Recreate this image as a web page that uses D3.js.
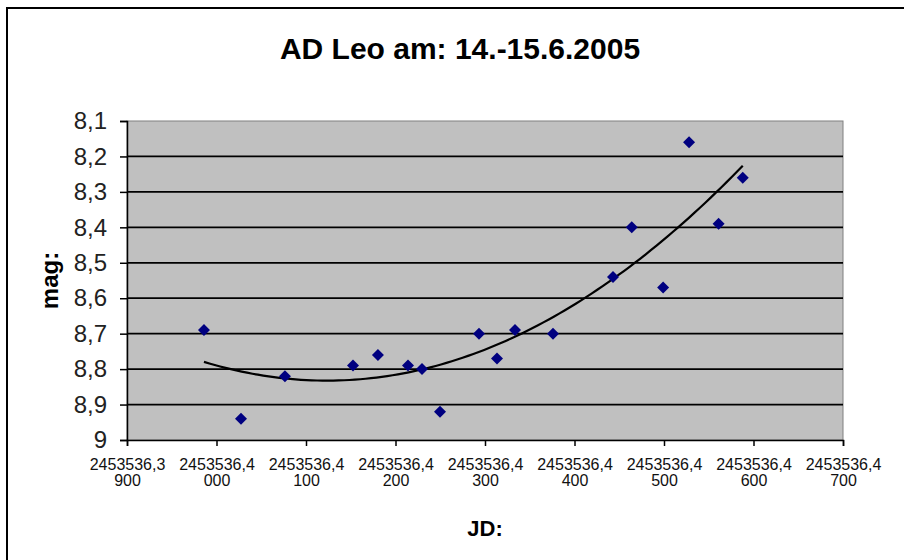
<!DOCTYPE html>
<html>
<head>
<meta charset="utf-8">
<script src="https://cdn.jsdelivr.net/npm/d3@7"></script>
<style>
  html, body { margin: 0; padding: 0; background: #fff; }
  svg { display: block; font-family: Arial, "Liberation Sans", sans-serif; }
</style>
</head>
<body>
<div id="chart"></div>
<script>
// observations (JD, magnitude)
const jd = [2453536.39860, 2453536.40274, 2453536.40765, 2453536.41525, 2453536.41804,
            2453536.42140, 2453536.42296, 2453536.42497, 2453536.42933, 2453536.43134,
            2453536.43335, 2453536.43760, 2453536.44430, 2453536.44640, 2453536.44990,
            2453536.45280, 2453536.45610, 2453536.45880];
const mag = [8.69, 8.94, 8.82, 8.79, 8.76, 8.79, 8.80, 8.92, 8.70, 8.77,
             8.69, 8.70, 8.54, 8.40, 8.57, 8.16, 8.39, 8.26];

const xTicks = [2453536.39, 2453536.40, 2453536.41, 2453536.42, 2453536.43,
                2453536.44, 2453536.45, 2453536.46, 2453536.47];
const xTickTop = ["2453536,3", "2453536,4", "2453536,4", "2453536,4", "2453536,4",
                  "2453536,4", "2453536,4", "2453536,4", "2453536,4"];
const xTickBottom = ["900", "000", "100", "200", "300", "400", "500", "600", "700"];
const yTicks = [8.1, 8.2, 8.3, 8.4, 8.5, 8.6, 8.7, 8.8, 8.9, 9];

const W = 904, H = 560;
const plot = { left: 127, right: 843, top: 121, bottom: 440 };

const svg = d3.select('#chart').append('svg')
  .attr('width', W)
  .attr('height', H);

// outer chart frame (runs off the right/bottom edge like the screenshot)
svg.append('rect')
  .attr('x', 7).attr('y', 8)
  .attr('width', 960).attr('height', 600)
  .attr('fill', '#fff')
  .attr('stroke', '#000')
  .attr('stroke-width', 2);

const x = d3.scaleLinear().domain([xTicks[0], xTicks[xTicks.length - 1]]).range([plot.left, plot.right]);
const y = d3.scaleLinear().domain([8.1, 9]).range([plot.top, plot.bottom]);

// plot area
svg.append('rect')
  .attr('x', plot.left).attr('y', plot.top)
  .attr('width', plot.right - plot.left).attr('height', plot.bottom - plot.top)
  .attr('fill', '#c0c0c0')
  .attr('stroke', '#808080')
  .attr('stroke-width', 1);

// gridlines
svg.append('g')
  .selectAll('line')
  .data(yTicks.slice(1, -1))
  .join('line')
  .attr('x1', plot.left).attr('x2', plot.right)
  .attr('y1', d => y(d)).attr('y2', d => y(d))
  .attr('stroke', '#000')
  .attr('stroke-width', 1.7);

// polynomial (order 2) trendline, least squares like Excel
const x0 = xTicks[0];
function polyFit2(xs, ys) {
  let n = xs.length, s1 = 0, s2 = 0, s3 = 0, s4 = 0, t0 = 0, t1 = 0, t2 = 0;
  for (let i = 0; i < n; i++) {
    const u = xs[i], v = ys[i];
    s1 += u; s2 += u * u; s3 += u * u * u; s4 += u * u * u * u;
    t0 += v; t1 += u * v; t2 += u * u * v;
  }
  const A = [[n, s1, s2], [s1, s2, s3], [s2, s3, s4]], b = [t0, t1, t2];
  const det = m => m[0][0] * (m[1][1] * m[2][2] - m[1][2] * m[2][1])
                 - m[0][1] * (m[1][0] * m[2][2] - m[1][2] * m[2][0])
                 + m[0][2] * (m[1][0] * m[2][1] - m[1][1] * m[2][0]);
  const D = det(A);
  return [0, 1, 2].map(k => det(A.map((row, r) => row.map((c, j) => j === k ? b[r] : c))) / D);
}
const us = jd.map(d => (d - x0) * 100);
const coef = polyFit2(us, mag);
const uMin = d3.min(us), uMax = d3.max(us);
const trend = d3.range(0, 101).map(i => {
  const u = uMin + (uMax - uMin) * i / 100;
  return [x0 + u / 100, coef[0] + coef[1] * u + coef[2] * u * u];
});
svg.append('path')
  .datum(trend)
  .attr('fill', 'none')
  .attr('stroke', '#000')
  .attr('stroke-width', 2.2)
  .attr('d', d3.line().x(d => x(d[0])).y(d => y(d[1])));

// markers
svg.append('g')
  .selectAll('path')
  .data(jd.map((d, i) => [d, mag[i]]))
  .join('path')
  .attr('transform', d => `translate(${x(d[0])},${y(d[1])}) rotate(45)`)
  .attr('d', d3.symbol(d3.symbolSquare, 72))
  .attr('fill', '#000080');

// axes
const commaFmt = d3.formatLocale({ decimal: ',', thousands: '.', grouping: [3], currency: ['', ''] }).format('~g');

const yAxis = svg.append('g')
  .attr('transform', `translate(${plot.left},0)`)
  .call(d3.axisLeft(y).tickValues(yTicks).tickSize(7).tickPadding(13).tickFormat(commaFmt));
yAxis.select('.domain').attr('stroke', '#000').attr('stroke-width', 1.5);
yAxis.selectAll('.tick line').attr('stroke', '#000').attr('stroke-width', 1.5);
yAxis.selectAll('.tick text')
  .attr('font-size', 24)
  .attr('font-family', 'Arial, "Liberation Sans", sans-serif')
  .attr('fill', '#222');

const xAxis = svg.append('g')
  .attr('transform', `translate(0,${plot.bottom})`)
  .call(d3.axisBottom(x).tickValues(xTicks).tickSize(6).tickPadding(0).tickFormat(() => ''));
xAxis.select('.domain').attr('stroke', '#000').attr('stroke-width', 1.5);
xAxis.selectAll('.tick line').attr('stroke', '#000').attr('stroke-width', 1.5);
xAxis.selectAll('.tick text')
  .attr('font-size', 16)
  .attr('font-family', 'Arial, "Liberation Sans", sans-serif')
  .attr('fill', '#111')
  .attr('dy', null)
  .attr('y', 0)
  .each(function (d, i) {
    const t = d3.select(this);
    t.append('tspan').attr('x', 0).attr('y', 30).text(xTickTop[i]);
    t.append('tspan').attr('x', 0).attr('y', 45.5).text(xTickBottom[i]);
  });

// titles
svg.append('text')
  .attr('x', 460).attr('y', 59)
  .attr('text-anchor', 'middle')
  .attr('font-size', 30)
  .attr('font-weight', 'bold')
  .text('AD Leo am: 14.-15.6.2005');

svg.append('text')
  .attr('x', (plot.left + plot.right) / 2).attr('y', 536)
  .attr('text-anchor', 'middle')
  .attr('font-size', 22)
  .attr('font-weight', 'bold')
  .text('JD:');

svg.append('text')
  .attr('transform', `translate(58,${(plot.top + plot.bottom) / 2}) rotate(-90)`)
  .attr('text-anchor', 'middle')
  .attr('font-size', 24)
  .attr('font-weight', 'bold')
  .text('mag:');
</script>
</body>
</html>
